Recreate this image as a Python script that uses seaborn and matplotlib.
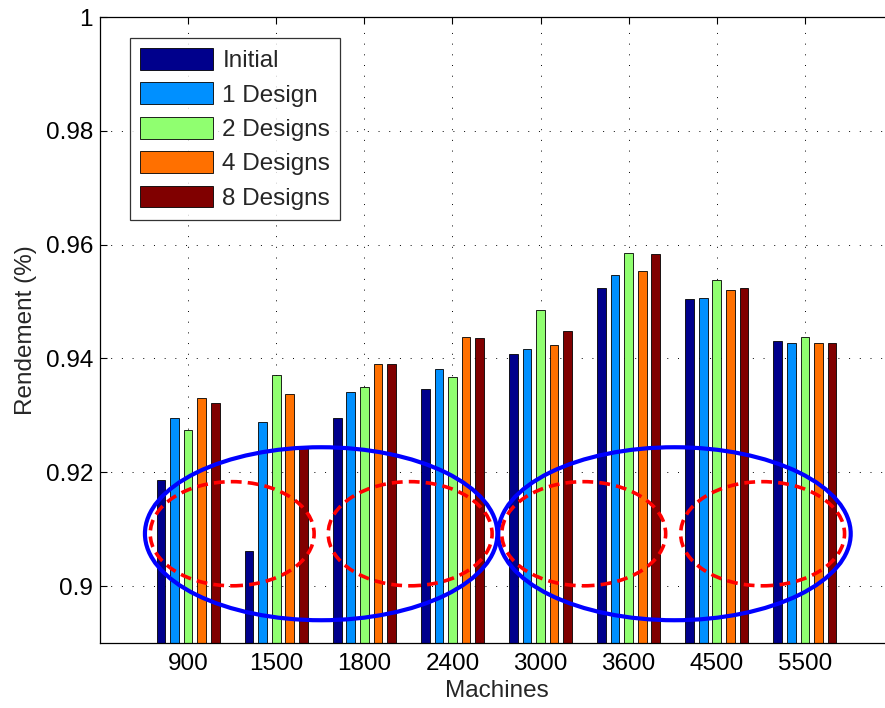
import matplotlib
matplotlib.use("Agg")
import matplotlib.pyplot as plt
from matplotlib.patches import Ellipse
import seaborn as sns
import pandas as pd

# ---- data ----
machines = ["900", "1500", "1800", "2400", "3000", "3600", "4500", "5500"]
series_names = ["Initial", "1 Design", "2 Designs", "4 Designs", "8 Designs"]
initial   = [0.9186, 0.9062, 0.9295, 0.9346, 0.9407, 0.9524, 0.9504, 0.9430]
design1   = [0.9295, 0.9288, 0.9341, 0.9381, 0.9416, 0.9547, 0.9506, 0.9427]
design2   = [0.9274, 0.9371, 0.9349, 0.9368, 0.9486, 0.9585, 0.9537, 0.9437]
design4   = [0.9330, 0.9337, 0.9391, 0.9437, 0.9423, 0.9553, 0.9521, 0.9427]
design8   = [0.9322, 0.9245, 0.9390, 0.9436, 0.9448, 0.9583, 0.9523, 0.9427]
y_ticks = [0.9, 0.92, 0.94, 0.96, 0.98, 1.0]
y_tick_labels = ["0.9", "0.92", "0.94", "0.96", "0.98", "1"]
colors = ["#00008C", "#0090FF", "#90FF70", "#FF7000", "#800000"]

rows = []
for name, vals in zip(series_names, [initial, design1, design2, design4, design8]):
    for m, v in zip(machines, vals):
        rows.append({"Machines": m, "Rendement": v, "Series": name})
df = pd.DataFrame(rows)

FS = 17.5
sns.set_style("white")
plt.rcParams["font.family"] = ["Liberation Sans", "DejaVu Sans"]
plt.rcParams["font.size"] = FS

fig = plt.figure(figsize=(8.85, 7.08), dpi=100)
ax = fig.add_axes([100 / 885, 65 / 708, 793 / 885, 626 / 708])

sns.barplot(data=df, x="Machines", y="Rendement", hue="Series",
            order=machines, hue_order=series_names, palette=colors,
            width=0.77, gap=0.36, edgecolor="black", linewidth=0.6,
            errorbar=None, saturation=1, ax=ax)

ax.set_xlim(-1, 8)
ax.set_ylim(0.89, 1.0)
ax.set_yticks(y_ticks)
ax.set_yticklabels(y_tick_labels)
ax.set_xticks(range(len(machines)))
ax.set_xticklabels(machines)

ax.set_axisbelow(True)
ax.grid(True, color="black", linestyle=(0, (1, 10)), linewidth=0.7)

for s in ax.spines.values():
    s.set_color("black")
    s.set_linewidth(0.9)
    s.set_visible(True)

ax.tick_params(axis="both", direction="in", length=5, width=0.8,
               colors="black", labelsize=FS, top=True, right=True,
               bottom=True, left=True)
ax.tick_params(axis="x", pad=7)
ax.tick_params(axis="y", pad=5)

ax.set_xlabel("Machines", fontsize=FS, labelpad=4)
ax.set_ylabel("Rendement (%)", fontsize=FS, labelpad=6)

# annotation ellipses
yc = 0.9092
for xc in [1.51, 5.52]:
    ax.add_patch(Ellipse((xc, yc), 4.0, 0.0304, fill=False,
                         edgecolor="#0000FF", linewidth=3.0, zorder=5))
for xc in [0.5, 2.52, 4.49, 6.52]:
    ax.add_patch(Ellipse((xc, yc), 1.86, 0.0183, fill=False,
                         edgecolor="#FF0000", linewidth=2.6,
                         linestyle=(0, (3.0, 1.7)), zorder=6))

leg = ax.legend(loc="upper left", bbox_to_anchor=(0.0378, 0.966),
                borderaxespad=0, fancybox=False, frameon=True,
                edgecolor="black", fontsize=FS, handlelength=3.0,
                handleheight=1.0, labelspacing=0.42, handletextpad=0.4,
                borderpad=0.4, title=None)
leg.get_frame().set_linewidth(0.9)
for h in leg.legend_handles:
    h.set_edgecolor("black")
    h.set_linewidth(0.6)

fig.savefig("out.png", dpi=100)
